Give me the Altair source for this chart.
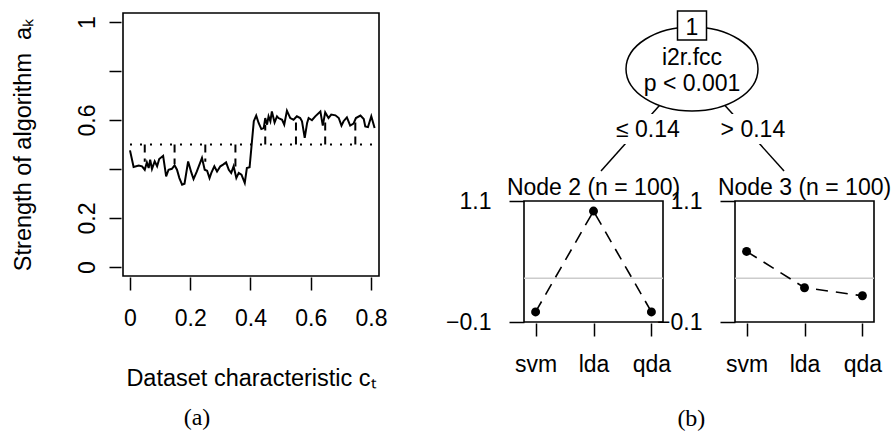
import altair as alt
import pandas as pd

# ---------------- Panel (a) data ----------------
line_x = [0.000, 0.012, 0.029, 0.040, 0.049, 0.056, 0.062, 0.067, 0.073, 0.082,
          0.090, 0.097, 0.110, 0.120, 0.128, 0.139, 0.148, 0.156, 0.164, 0.173,
          0.181, 0.193, 0.204, 0.211, 0.222, 0.239, 0.248, 0.256, 0.264, 0.270,
          0.280, 0.289, 0.300, 0.309, 0.319, 0.328, 0.336, 0.344, 0.353, 0.361,
          0.370, 0.381, 0.388, 0.397, 0.411, 0.419, 0.427, 0.436, 0.444, 0.449,
          0.455, 0.460, 0.466, 0.471, 0.480, 0.488, 0.493, 0.505, 0.512, 0.521,
          0.532, 0.543, 0.554, 0.565, 0.571, 0.580, 0.588, 0.593, 0.604, 0.615,
          0.632, 0.640, 0.648, 0.659, 0.668, 0.682, 0.693, 0.702, 0.709, 0.720,
          0.731, 0.742, 0.750, 0.765, 0.776, 0.781, 0.790, 0.801, 0.812]
line_y = [0.476, 0.408, 0.414, 0.411, 0.397, 0.427, 0.404, 0.438, 0.400, 0.431,
          0.411, 0.441, 0.454, 0.370, 0.397, 0.401, 0.415, 0.397, 0.363, 0.336,
          0.340, 0.431, 0.384, 0.359, 0.390, 0.445, 0.397, 0.393, 0.363, 0.384,
          0.411, 0.390, 0.411, 0.418, 0.427, 0.397, 0.384, 0.411, 0.363, 0.384,
          0.377, 0.343, 0.404, 0.407, 0.595, 0.618, 0.588, 0.563, 0.567, 0.608,
          0.581, 0.615, 0.595, 0.635, 0.590, 0.615, 0.608, 0.601, 0.581, 0.638,
          0.608, 0.601, 0.615, 0.608, 0.595, 0.527, 0.588, 0.608, 0.599, 0.615,
          0.635, 0.577, 0.631, 0.608, 0.622, 0.619, 0.608, 0.577, 0.595, 0.611,
          0.577, 0.585, 0.608, 0.618, 0.604, 0.574, 0.571, 0.615, 0.567]
ref_level = 0.5
spike_x = [0.049, 0.148, 0.250, 0.350, 0.449, 0.551, 0.648, 0.748]
spike_y = [0.43, 0.42, 0.43, 0.41, 0.58, 0.60, 0.60, 0.60]
x_ticks_a = [0, 0.2, 0.4, 0.6, 0.8]
y_ticks_a = [0, 0.2, 0.4, 0.6, 0.8, 1.0]

# ---------------- Panel (b) data ----------------
algos = ["svm", "lda", "qda"]
node2_values = [0.0, 1.0, 0.0]
node3_values = [0.60, 0.24, 0.16]
node_ref = 0.333
node_titles = ["Node 2 (n = 100)", "Node 3 (n = 100)"]
node_ticks = [-0.1, 1.1]
split_id = "1"
split_var = "i2r.fcc"
split_p = "p < 0.001"
split_labels = ["\u2264 0.14", "> 0.14"]

# tree layout, as fractions of the tree area
root_x = 0.48
root_y = 0.329
id_y = 0.074
id_text_y = 0.128
var_text_y = 0.304
p_text_y = 0.461
child_x = [0.22, 0.743]
child_y = 0.929
edge_label_x = [0.354, 0.654]
edge_label_y = 0.731
label_bg_x = [0.251, 0.551]
label_bg_x2 = [0.457, 0.757]
label_bg_y = [0.594, 0.594]
label_bg_y2 = [0.771, 0.771]

FONT = "Liberation Sans"
SERIF = "Liberation Serif"
FS = 23
FS_TITLE = 23.5

# ---------------- Panel (a) ----------------
df_line = pd.DataFrame({"c": line_x, "a": line_y})
df_ref = pd.DataFrame({"c": [line_x[0]], "c2": [line_x[-1]], "a": [ref_level]})
df_spk = pd.DataFrame({"c": spike_x, "a": [ref_level] * len(spike_x), "a2": spike_y})

xa = alt.Scale(domain=[-0.0232, 0.8266], nice=False, zero=False)
ya = alt.Scale(domain=[-0.0367, 1.0367], nice=False, zero=False)
x_axis_a = alt.Axis(values=x_ticks_a, format="~g", title="Dataset characteristic c\u209c",
                    titleFontSize=FS_TITLE,
                    tickSize=13, offset=1, labelPadding=17, titlePadding=36,
                    labelFlush=False, labelOverlap=False)
y_axis_a = alt.Axis(values=y_ticks_a,
                    labelExpr="datum.value == 0.4 || datum.value == 0.8 ? '' : format(datum.value, '~g')",
                    title="Strength of algorithm\u00a0 a\u2096", titleFontSize=FS_TITLE,
                    tickSize=12, offset=2,
                    labelAngle=270, labelAlign="center", labelBaseline="bottom",
                    labelPadding=10, titlePadding=41,
                    labelFlush=False, labelOverlap=False)

line_a = alt.Chart(df_line).mark_line(color="black", strokeWidth=2).encode(
    x=alt.X("c:Q", scale=xa, axis=x_axis_a),
    y=alt.Y("a:Q", scale=ya, axis=y_axis_a))
ref_a = alt.Chart(df_ref).mark_rule(color="black", strokeWidth=2, strokeDash=[2, 8]).encode(
    x=alt.X("c:Q", scale=xa, axis=x_axis_a), x2="c2:Q",
    y=alt.Y("a:Q", scale=ya, axis=y_axis_a))
spk_a = alt.Chart(df_spk).mark_rule(color="black", strokeWidth=2, strokeDash=[8, 6]).encode(
    x=alt.X("c:Q", scale=xa, axis=x_axis_a),
    y=alt.Y("a:Q", scale=ya, axis=y_axis_a), y2="a2:Q")

panel_a = alt.layer(ref_a, spk_a, line_a).properties(
    width=256, height=263,
    title=alt.Title("(a)", orient="bottom", font=SERIF, fontSize=24, offset=16, dx=-54))

# ---------------- Tree ----------------
tx = alt.Scale(domain=[0, 1], nice=False, zero=False)
ty = alt.Scale(domain=[0, 1], reverse=True, nice=False, zero=False)

df_edges = pd.DataFrame({"x": [root_x, root_x], "y": [root_y, root_y],
                         "x2": child_x, "y2": [child_y, child_y]})
df_bg = pd.DataFrame({"x": label_bg_x, "x2": label_bg_x2, "y": label_bg_y, "y2": label_bg_y2})
df_root = pd.DataFrame({"x": [root_x], "y": [root_y]})
df_id = pd.DataFrame({"x": [root_x], "y": [id_y]})
df_txt = pd.DataFrame({
    "x": [root_x, root_x, root_x, edge_label_x[0], edge_label_x[1]],
    "y": [id_text_y, var_text_y, p_text_y, edge_label_y, edge_label_y],
    "t": [split_id, split_var, split_p, split_labels[0], split_labels[1]]})

ELLIPSE = "M-1,0A1,0.636,0,1,1,1,0A1,0.636,0,1,1,-1,0Z"

edges = alt.Chart(df_edges).mark_rule(color="black", strokeWidth=1.5).encode(
    x=alt.X("x:Q", scale=tx, axis=None), y=alt.Y("y:Q", scale=ty, axis=None),
    x2="x2:Q", y2="y2:Q")
bg = alt.Chart(df_bg).mark_rect(color="white", opacity=1).encode(
    x=alt.X("x:Q", scale=tx, axis=None), y=alt.Y("y:Q", scale=ty, axis=None),
    x2="x2:Q", y2="y2:Q")
ell = alt.Chart(df_root).mark_point(shape=ELLIPSE, size=17424, filled=True, fill="white",
                                    stroke="black", strokeWidth=1.5, opacity=1).encode(
    x=alt.X("x:Q", scale=tx, axis=None), y=alt.Y("y:Q", scale=ty, axis=None))
idbox = alt.Chart(df_id).mark_square(size=841, filled=True, fill="white", stroke="black",
                                     strokeWidth=1.5, opacity=1).encode(
    x=alt.X("x:Q", scale=tx, axis=None), y=alt.Y("y:Q", scale=ty, axis=None))
txt = alt.Chart(df_txt).mark_text(font=FONT, fontSize=FS, baseline="alphabetic",
                                  align="center", color="black").encode(
    x=alt.X("x:Q", scale=tx, axis=None), y=alt.Y("y:Q", scale=ty, axis=None), text="t:N")

tree = alt.layer(edges, bg, ell, idbox, txt).properties(
    width=350, height=170, view=alt.ViewBackground(stroke="transparent"))


# ---------------- Node panels ----------------
def node_panel(title, values):
    df = pd.DataFrame({"algo": algos, "v": values, "i": list(range(len(algos)))})
    xsc = alt.Scale(type="point", domain=algos, padding=0.2)
    ysc = alt.Scale(domain=[-0.1, 1.1], nice=False, zero=False)
    xax = alt.Axis(title=None, labelAngle=0, tickSize=13, offset=1, labelPadding=17)
    yax = alt.Axis(title=None, values=node_ticks, format=".1f", tickSize=15, labelPadding=18,
                   labelFlush=False, labelOverlap=False)
    ref = alt.Chart(pd.DataFrame({"v": [node_ref]})).mark_rule(
        color="#cccccc", strokeWidth=1.5).encode(y=alt.Y("v:Q", scale=ysc, axis=yax))
    ln = alt.Chart(df).mark_line(color="black", strokeWidth=1.6, strokeDash=[12, 8]).encode(
        x=alt.X("algo:N", scale=xsc, axis=xax, sort=algos),
        y=alt.Y("v:Q", scale=ysc, axis=yax), order="i:Q")
    pts = alt.Chart(df).mark_circle(color="black", size=80, opacity=1).encode(
        x=alt.X("algo:N", scale=xsc, axis=xax, sort=algos),
        y=alt.Y("v:Q", scale=ysc, axis=yax))
    return alt.layer(ref, ln, pts).properties(
        width=139, height=121, title=alt.Title(title, offset=-10))


node_row = alt.hconcat(node_panel(node_titles[0], node2_values),
                       node_panel(node_titles[1], node3_values),
                       spacing=72, bounds="flush")
panel_b = alt.vconcat(tree, node_row, spacing=18, bounds="flush",
                      title=alt.Title("(b)", orient="bottom", font=SERIF,
                                      fontSize=24, offset=30, dx=23))

chart = alt.hconcat(panel_a, panel_b, spacing=145, bounds="flush").properties(
    padding={"left": 10, "top": 7, "right": 0, "bottom": 0}
).configure_view(
    stroke="black", strokeWidth=1.6
).configure_axis(
    domain=False, grid=False, tickColor="black", tickWidth=1.5,
    labelFont=FONT, labelFontSize=FS, labelColor="black",
    titleFont=FONT, titleFontSize=FS, titleFontWeight="normal", titleColor="black"
).configure_title(
    font=FONT, fontSize=FS, fontWeight="normal", color="black", anchor="middle"
)

chart.save("out.html", embed_options={"renderer": "svg", "actions": False})
